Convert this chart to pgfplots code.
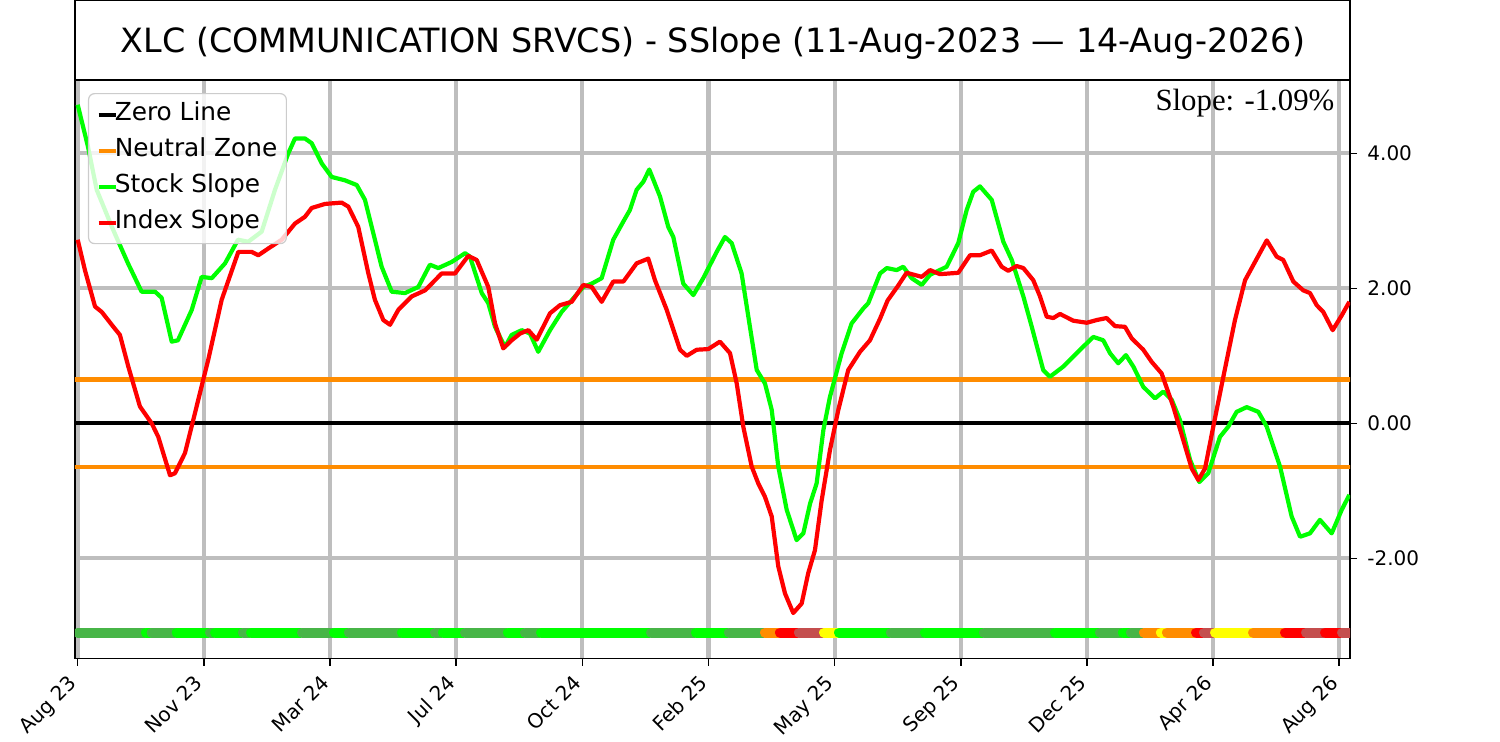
\documentclass[border=0pt]{standalone}
\usepackage{fontspec}
\setmainfont{DejaVu Sans}
\newfontfamily\timesfont{Liberation Serif}
\usepackage{pgfplots}
\pgfplotsset{compat=1.18}
\definecolor{gridgray}{RGB}{190,190,190}
\definecolor{lime}{RGB}{0,255,0}
\definecolor{dorange}{RGB}{255,140,0}
\definecolor{dgreen}{RGB}{71,181,71}
\definecolor{bred}{RGB}{196,78,78}
\definecolor{yel}{RGB}{255,255,0}
\definecolor{legframe}{RGB}{204,204,204}
\begin{document}
\begin{tikzpicture}
\useasboundingbox (0,0) rectangle (750pt,370.5pt);
\begin{axis}[
  at={(37.5pt,41.25pt)}, anchor=south west,
  scale only axis, width=637.5pt, height=289.25pt,
  xmin=-1.6, xmax=756.4, ymin=-3.484, ymax=5.086,
  xtick={0,75,150,225,300,375,450,525,600,675,750},
  xticklabels={Aug 23,Nov 23,Mar 24,Jul 24,Oct 24,Feb 25,May 25,Sep 25,Dec 25,Apr 26,Aug 26},
  ytick={-2,0,2,4}, yticklabels={-2.00,0.00,2.00,4.00},
  xtick pos=left, ytick pos=right, yticklabel pos=right,
  tick align=outside, major tick length=3.5pt,
  every tick/.style={black, line width=0.8pt},
  grid=major,
  major grid style={gridgray, line width=2.1pt},
  axis line style={line width=0.8pt},
  tick label style={font=\fontsize{10}{12}\selectfont},
  xticklabel style={xshift=-5.2pt, yshift=-4pt, rotate=45, anchor=north east, inner sep=0pt},
  yticklabel style={anchor=west, inner sep=0pt, xshift=5pt},
  legend style={at={(0.0102,0.9775)}, anchor=north west, draw=legframe, line width=0.6pt,
    rounded corners=3pt, fill=white, fill opacity=0.8, text opacity=1,
    font=\fontsize{12.4}{14}\selectfont, inner xsep=4pt, inner ysep=1.5pt, row sep=0pt,
    nodes={inner ysep=3pt, inner xsep=0.5pt, text height=9.1pt, text depth=2.9pt},
    /tikz/every odd column/.append style={column sep=-2pt}},
  legend cell align=left,
  legend image code/.code={\draw[#1, line width=2.1pt, line cap=butt] (0pt,0pt) -- (8.5pt,0pt);},
  band/.style={forget plot, line width=5pt, line cap=round},
  curve/.style={line width=2.1pt, line join=round},
]
\addplot[black, line width=2.1pt] coordinates {(-5,0) (760,0)};
\addlegendentry{Zero Line}
\addplot[dorange, line width=2.1pt] coordinates {(-5,0.65) (760,0.65)};
\addlegendentry{Neutral Zone}
\addplot[dorange, line width=2.1pt, forget plot] coordinates {(-5,-0.65) (760,-0.65)};
% signal band
\addplot[band, dgreen] coordinates {(0,-3.1) (39.6,-3.1)};
\addplot[band, lime] coordinates {(40.6,-3.1) (43,-3.1)};
\addplot[band, dgreen] coordinates {(44,-3.1) (57.9,-3.1)};
\addplot[band, lime] coordinates {(58.9,-3.1) (77.7,-3.1)};
\addplot[band, dgreen] coordinates {(78.7,-3.1) (80.7,-3.1)};
\addplot[band, lime] coordinates {(81.7,-3.1) (97.3,-3.1)};
\addplot[band, dgreen] coordinates {(98.3,-3.1) (102.1,-3.1)};
\addplot[band, lime] coordinates {(103.1,-3.1) (132.4,-3.1)};
\addplot[band, dgreen] coordinates {(133.4,-3.1) (151.4,-3.1)};
\addplot[band, lime] coordinates {(152.4,-3.1) (160.3,-3.1)};
\addplot[band, dgreen] coordinates {(161.3,-3.1) (191.8,-3.1)};
\addplot[band, lime] coordinates {(192.8,-3.1) (211.4,-3.1)};
\addplot[band, dgreen] coordinates {(212.4,-3.1) (216.2,-3.1)};
\addplot[band, lime] coordinates {(217.2,-3.1) (229.3,-3.1)};
\addplot[band, dgreen] coordinates {(230.3,-3.1) (254.8,-3.1)};
\addplot[band, lime] coordinates {(255.8,-3.1) (264.9,-3.1)};
\addplot[band, dgreen] coordinates {(265.9,-3.1) (274.5,-3.1)};
\addplot[band, lime] coordinates {(275.5,-3.1) (339.9,-3.1)};
\addplot[band, dgreen] coordinates {(340.9,-3.1) (366.6,-3.1)};
\addplot[band, lime] coordinates {(367.6,-3.1) (386.2,-3.1)};
\addplot[band, dgreen] coordinates {(387.2,-3.1) (407.6,-3.1)};
\addplot[band, dorange] coordinates {(408.6,-3.1) (416.5,-3.1)};
\addplot[band, red] coordinates {(417.5,-3.1) (427.8,-3.1)};
\addplot[band, bred] coordinates {(428.8,-3.1) (442.7,-3.1)};
\addplot[band, yel] coordinates {(443.7,-3.1) (451.6,-3.1)};
\addplot[band, lime] coordinates {(452.6,-3.1) (482.5,-3.1)};
\addplot[band, dgreen] coordinates {(483.5,-3.1) (502.7,-3.1)};
\addplot[band, lime] coordinates {(503.7,-3.1) (537.8,-3.1)};
\addplot[band, dgreen] coordinates {(538.8,-3.1) (580,-3.1)};
\addplot[band, lime] coordinates {(581,-3.1) (606.8,-3.1)};
\addplot[band, dgreen] coordinates {(607.8,-3.1) (620.4,-3.1)};
\addplot[band, lime] coordinates {(621.4,-3.1) (625.2,-3.1)};
\addplot[band, dgreen] coordinates {(626.2,-3.1) (632.9,-3.1)};
\addplot[band, dorange] coordinates {(633.9,-3.1) (643,-3.1)};
\addplot[band, yel] coordinates {(644,-3.1) (646.6,-3.1)};
\addplot[band, dorange] coordinates {(647.6,-3.1) (663.9,-3.1)};
\addplot[band, red] coordinates {(664.9,-3.1) (668.6,-3.1)};
\addplot[band, bred] coordinates {(669.6,-3.1) (675.2,-3.1)};
\addplot[band, yel] coordinates {(676.2,-3.1) (697.8,-3.1)};
\addplot[band, dorange] coordinates {(698.8,-3.1) (716.8,-3.1)};
\addplot[band, red] coordinates {(717.8,-3.1) (729.3,-3.1)};
\addplot[band, bred] coordinates {(730.3,-3.1) (740.6,-3.1)};
\addplot[band, red] coordinates {(741.6,-3.1) (750.7,-3.1)};
\addplot[band, bred] coordinates {(751.7,-3.1) (756,-3.1)};
% stock slope
\addplot[curve, lime] coordinates {
(0,4.72) (6.1,4.10) (11.3,3.46) (20.5,2.90) (29.9,2.37) (38.0,1.95) (46.0,1.95) (49.9,1.86) (55.9,1.21) (59.6,1.23) (67.8,1.68) (73.7,2.17) (79.7,2.15) (87.6,2.37) (95.3,2.72) (101.4,2.69) (109.4,2.84) (117.3,3.46) (125.2,4.00) (129.2,4.22) (135.1,4.22) (139.1,4.15) (145.1,3.85) (151.0,3.65) (158.9,3.60) (165.9,3.53) (170.8,3.31) (176.7,2.72) (180.7,2.32) (186.7,1.95) (194.6,1.93) (202.5,2.02) (209.4,2.35) (214.4,2.30) (222.3,2.39) (230.3,2.52) (233.2,2.47) (240.2,1.93) (244.1,1.78) (248.1,1.43) (254.0,1.13) (258.0,1.31) (264.0,1.38) (268.9,1.33) (273.8,1.06) (280.8,1.38) (287.7,1.65) (294.6,1.85) (300.6,2.02) (305.6,2.07) (311.5,2.15) (318.4,2.72) (324.4,2.99) (328.3,3.16) (332.3,3.46) (336.3,3.58) (339.8,3.76) (346.2,3.36) (351.1,2.91) (354.1,2.76) (360.0,2.07) (366.0,1.90) (371.9,2.15) (379.9,2.54) (384.8,2.76) (388.8,2.67) (394.7,2.22) (398.7,1.58) (403.7,0.79) (408.6,0.59) (412.6,0.20) (416.5,-0.64) (421.5,-1.28) (427.4,-1.73) (431.4,-1.63) (435.4,-1.19) (439.3,-0.89) (443.3,-0.10) (447.2,0.39) (454.2,1.04) (460.1,1.48) (467.0,1.70) (470.0,1.78) (477.0,2.22) (481.0,2.30) (486.9,2.27) (490.8,2.32) (495.8,2.15) (501.8,2.05) (506.7,2.20) (516.6,2.32) (523.5,2.67) (528.5,3.16) (532.4,3.43) (536.4,3.51) (543.4,3.31) (550.3,2.69) (555.3,2.42) (562.2,1.88) (567.2,1.43) (574.0,0.79) (578.0,0.69) (585.9,0.84) (595.9,1.09) (603.8,1.28) (609.7,1.23) (613.7,1.04) (618.6,0.89) (623.2,1.01) (627.6,0.84) (633.5,0.54) (640.5,0.37) (645.4,0.47) (650.4,0.35) (655.3,0.05) (661.3,-0.54) (666.8,-0.87) (672.1,-0.74) (679.1,-0.20) (684.0,-0.05) (689.0,0.17) (695.0,0.24) (701.9,0.17) (706.9,-0.05) (714.8,-0.64) (721.7,-1.38) (726.7,-1.68) (732.6,-1.63) (738.5,-1.43) (745.5,-1.63) (751.5,-1.28) (756.0,-1.06)
};
\addlegendentry{Stock Slope}
% index slope
\addplot[curve, red] coordinates {
(0,2.72) (4.3,2.27) (10.3,1.73) (14.3,1.65) (21.2,1.43) (25.1,1.31) (30.1,0.84) (37.0,0.25) (44.0,0.0) (47.9,-0.20) (54.9,-0.77) (57.8,-0.74) (63.8,-0.44) (69.7,0.15) (77.6,0.94) (85.6,1.83) (95.5,2.54) (103.4,2.54) (107.4,2.49) (113.3,2.59) (121.3,2.72) (129.2,2.96) (135.1,3.06) (139.1,3.19) (147.0,3.25) (156.9,3.27) (160.9,3.21) (166.8,2.91) (172.8,2.22) (176.7,1.83) (181.7,1.53) (185.7,1.46) (190.6,1.68) (198.6,1.88) (206.5,1.97) (216.4,2.22) (224.3,2.22) (232.2,2.48) (237.2,2.42) (244.1,2.02) (248.1,1.48) (253.0,1.11) (258.0,1.23) (263.0,1.33) (267.9,1.38) (272.9,1.24) (280.8,1.63) (286.7,1.75) (293.7,1.80) (300.6,2.05) (305.6,2.02) (311.5,1.80) (318.4,2.10) (324.4,2.10) (332.3,2.37) (339.2,2.44) (343.2,2.12) (350.2,1.68) (358.1,1.09) (362.1,1.00) (368.0,1.09) (374.9,1.10) (381.8,1.21) (387.8,1.04) (391.8,0.59) (395.7,-0.05) (400.7,-0.64) (404.6,-0.89) (408.6,-1.09) (412.6,-1.38) (416.5,-2.12) (420.5,-2.52) (425.4,-2.81) (430.4,-2.67) (434.3,-2.22) (438.3,-1.88) (442.3,-1.14) (447.2,-0.40) (452.2,0.20) (458.1,0.79) (465.1,1.06) (471.0,1.23) (477.0,1.55) (481.5,1.82) (487.5,2.03) (492.8,2.23) (501.8,2.17) (506.7,2.27) (512.6,2.21) (523.5,2.23) (530.5,2.49) (536.4,2.49) (543.4,2.56) (549.3,2.32) (553.2,2.26) (558.2,2.33) (562.2,2.30) (568.1,2.12) (572.1,1.88) (576.1,1.58) (580.0,1.56) (584.0,1.62) (591.9,1.52) (599.9,1.49) (605.8,1.53) (611.7,1.56) (616.7,1.44) (622.6,1.43) (626.6,1.26) (633.5,1.09) (638.5,0.91) (644.4,0.74) (651.3,0.25) (657.3,-0.25) (662.3,-0.67) (666.2,-0.84) (670.2,-0.67) (675.1,-0.05) (681.1,0.69) (688.0,1.53) (694.0,2.12) (699.9,2.39) (706.9,2.71) (712.8,2.47) (716.7,2.42) (722.7,2.10) (728.6,1.97) (732.6,1.93) (736.6,1.75) (740.5,1.65) (746.1,1.38) (751.5,1.60) (756.0,1.80)
};
\addlegendentry{Index Slope}
\node[anchor=base east, inner sep=0pt, font=\timesfont\fontsize{15.4}{18}\selectfont] at (rel axis cs:0.988,0.948) {Slope: -1.09\%};
\end{axis}
\draw[line width=1pt] (37.5pt,330.5pt) rectangle (675pt,370.5pt);
\node[anchor=base, inner sep=0pt, font=\fontsize{16.7}{20}\selectfont] at (356.5pt,344.4pt) {XLC (COMMUNICATION SRVCS) - SSlope (11-Aug-2023 — 14-Aug-2026)};
\end{tikzpicture}
\end{document}
